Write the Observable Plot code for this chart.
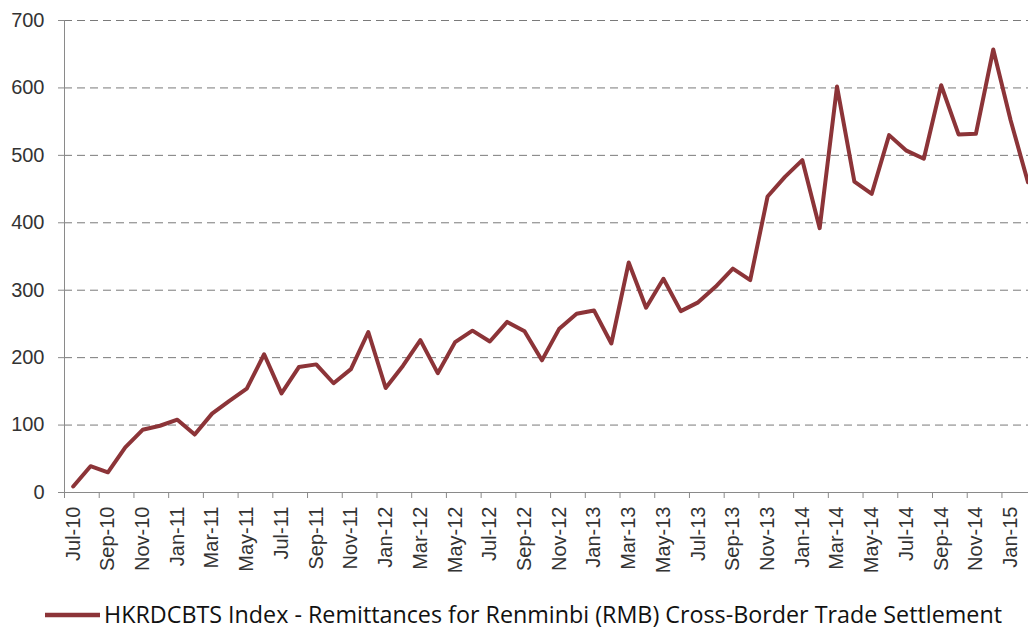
<!DOCTYPE html>
<html>
<head>
<meta charset="utf-8">
<script src="https://cdn.jsdelivr.net/npm/d3@7"></script>
<script src="https://cdn.jsdelivr.net/npm/@observablehq/plot@0.6"></script>
<style>
  body { margin: 0; background: #fff; }
  #legend { display: block; }
</style>
</head>
<body>
<div id="chart"></div>
<svg id="legend" width="1028" height="38" xmlns="http://www.w3.org/2000/svg">
  <line id="legline" x1="45" x2="100" y1="25" y2="25" stroke="#8c3438" stroke-width="4.5"></line>
  <text id="legtext" x="104" y="32.5" font-family="'Open Sans', sans-serif" font-size="23.3" fill="#111" textLength="898" lengthAdjust="spacing"></text>
</svg>
<script>
const months = ["Jul-10","Aug-10","Sep-10","Oct-10","Nov-10","Dec-10",
  "Jan-11","Feb-11","Mar-11","Apr-11","May-11","Jun-11","Jul-11","Aug-11","Sep-11","Oct-11","Nov-11","Dec-11",
  "Jan-12","Feb-12","Mar-12","Apr-12","May-12","Jun-12","Jul-12","Aug-12","Sep-12","Oct-12","Nov-12","Dec-12",
  "Jan-13","Feb-13","Mar-13","Apr-13","May-13","Jun-13","Jul-13","Aug-13","Sep-13","Oct-13","Nov-13","Dec-13",
  "Jan-14","Feb-14","Mar-14","Apr-14","May-14","Jun-14","Jul-14","Aug-14","Sep-14","Oct-14","Nov-14","Dec-14",
  "Jan-15","Feb-15"];
const values = [9,39,30,67,93,99,108,86,117,136,
  154,205,147,186,190,162,183,238,155,188,
  226,177,223,240,224,253,239,196,243,265,
  270,221,341,274,317,269,282,305,332,315,
  439,468,493,392,602,461,443,530,507,495,
  604,531,532,657,552,460];
const yTicks = [0,100,200,300,400,500,600,700];
const seriesName = "HKRDCBTS Index - Remittances for Renminbi (RMB) Cross-Border Trade Settlement";

const data = months.map((m, i) => ({i, month: m, value: values[i]}));
const labelIdx = months.map((m, i) => i).filter(i => i % 2 === 0);
const boundaries = labelIdx.map(i => i - 0.5);

const chart = Plot.plot({
  width: 1028,
  height: 590,
  marginLeft: 64,
  marginRight: 0,
  marginTop: 20,
  marginBottom: 98,
  style: {fontFamily: "'Liberation Sans', Arial, sans-serif", fontSize: "20px", color: "#333", background: "#fff"},
  x: {domain: [-0.5, months.length - 0.5], range: [64, 64 + 17.36 * months.length]},
  y: {domain: [0, 700]},
  marks: [
    Plot.gridY(yTicks.filter(d => d > 0), {stroke: "#7a7a7a", strokeOpacity: 1, strokeDasharray: "8,5"}),
    Plot.axisY(yTicks, {tickSize: 6, tickPadding: 14, stroke: "#8a8a8a", fill: "#333", label: null, tickFormat: d => d}),
    Plot.ruleX([-0.5], {stroke: "#8a8a8a"}),
    Plot.ruleY([0], {stroke: "#8a8a8a"}),
    Plot.axisX(boundaries, {tickSize: 6, stroke: "#8a8a8a", tickFormat: () => "", label: null}),
    Plot.axisX(labelIdx, {tickSize: 0, tickPadding: 14, tickRotate: -90, tickFormat: i => months[i], fill: "#333", label: null}),
    Plot.line(data, {x: "i", y: "value", stroke: "#8c3438", strokeWidth: 4, strokeLinejoin: "round"})
  ]
});
document.getElementById("chart").append(chart);
document.getElementById("legtext").textContent = seriesName;
</script>
</body>
</html>
